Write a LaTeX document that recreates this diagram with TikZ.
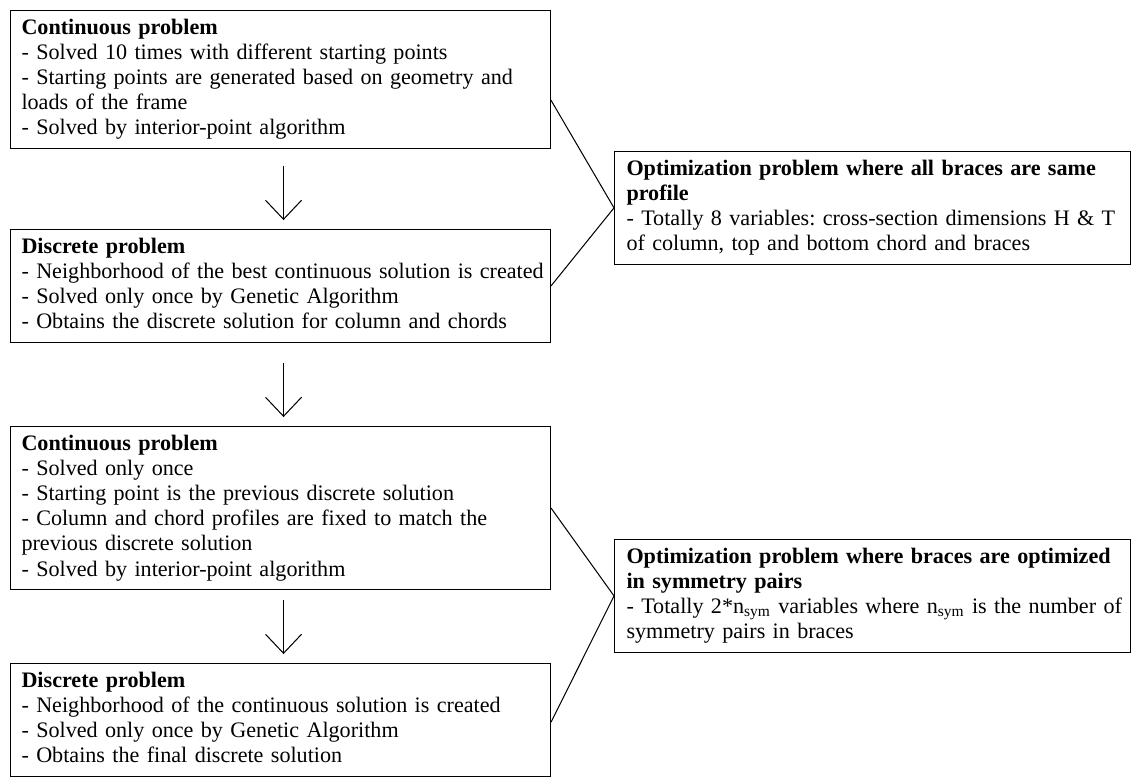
\documentclass[tikz,border=0pt]{standalone}
\usepackage{fontspec}
\setmainfont{Liberation Serif}
\usetikzlibrary{arrows.meta,calc}
% one unbreakable line of box text
\newcommand\rowtxt[1]{\mbox{#1}}
\begin{document}
\begin{tikzpicture}[x=0.5357pt,y=-0.5357pt,
  every node/.style={font=\fontsize{11.85pt}{13.5pt}\selectfont\frenchspacing},
  stagebox/.style={draw, line width=0.55pt, anchor=north west, align=left,
    text width=277.5pt, inner xsep=5.9pt, inner ysep=3.2pt,
    execute at begin node=\strut, execute at end node=\strut},
  infobox/.style={stagebox, text width=263.6pt, inner xsep=6.43pt},
  flow/.style={line width=0.55pt,
    -{Straight Barb[length=10.2pt,width=19.3pt,line width=0.55pt]},
    shorten >=4.8pt},
  link/.style={line width=0.55pt}]
\useasboundingbox (0,0) rectangle (1133,778);

% main sequence of sub-problems
\node[stagebox] (b1) at (10,10) {\rowtxt{\textbf{Continuous problem}}\\
\rowtxt{- Solved 10 times with different starting points}\\
\rowtxt{- Starting points are generated based on geometry and}\\
\rowtxt{loads of the frame}\\
\rowtxt{- Solved by interior-point algorithm}};

\node[stagebox] (b2) at (10,229) {\rowtxt{\textbf{Discrete problem}}\\
\rowtxt{- Neighborhood of the best continuous solution is created}\\
\rowtxt{- Solved only once by Genetic Algorithm}\\
\rowtxt{- Obtains the discrete solution for column and chords}};

\node[stagebox] (b3) at (10,426) {\rowtxt{\textbf{Continuous problem}}\\
\rowtxt{- Solved only once}\\
\rowtxt{- Starting point is the previous discrete solution}\\
\rowtxt{- Column and chord profiles are fixed to match the}\\
\rowtxt{previous discrete solution}\\
\rowtxt{- Solved by interior-point algorithm}};

\node[stagebox] (b4) at (10,663) {\rowtxt{\textbf{Discrete problem}}\\
\rowtxt{- Neighborhood of the continuous solution is created}\\
\rowtxt{- Solved only once by Genetic Algorithm}\\
\rowtxt{- Obtains the final discrete solution}};

% optimization problem descriptions
\node[infobox] (r1) at (614,151) {\rowtxt{\textbf{Optimization problem where all braces are same}}\\
\rowtxt{\textbf{profile}}\\
\rowtxt{- Totally 8 variables: cross-section dimensions H \& T}\\
\rowtxt{of column, top and bottom chord and braces}};

\node[infobox] (r2) at (614,539) {\rowtxt{\textbf{Optimization problem where braces are optimized}}\\
\rowtxt{\textbf{in symmetry pairs}}\\
\rowtxt{- Totally 2*n\textsubscript{sym} variables where n\textsubscript{sym} is the number of}\\
\rowtxt{symmetry pairs in braces}};

% flow arrows
\draw[flow, shorten <=9.1pt] ([xshift=1.6pt]b1.south) -- ([xshift=1.6pt]b2.north);
\draw[flow, shorten <=10.7pt] ([xshift=1.6pt]b2.south) -- ([xshift=1.6pt]b3.north);
\draw[flow, shorten <=5pt] ([xshift=1.6pt]b3.south) -- ([xshift=1.6pt]b4.north);

% grouping lines
\draw[link] ($(b1.north east)!0.65!(b1.south east)$) -- (r1.west);
\draw[link] ($(b2.north east)!0.5!(b2.south east)$) -- (r1.west);
\draw[link] ($(b3.north east)!0.5!(b3.south east)$) -- (r2.west);
\draw[link] ($(b4.north east)!0.52!(b4.south east)$) -- (r2.west);
\end{tikzpicture}
\end{document}
